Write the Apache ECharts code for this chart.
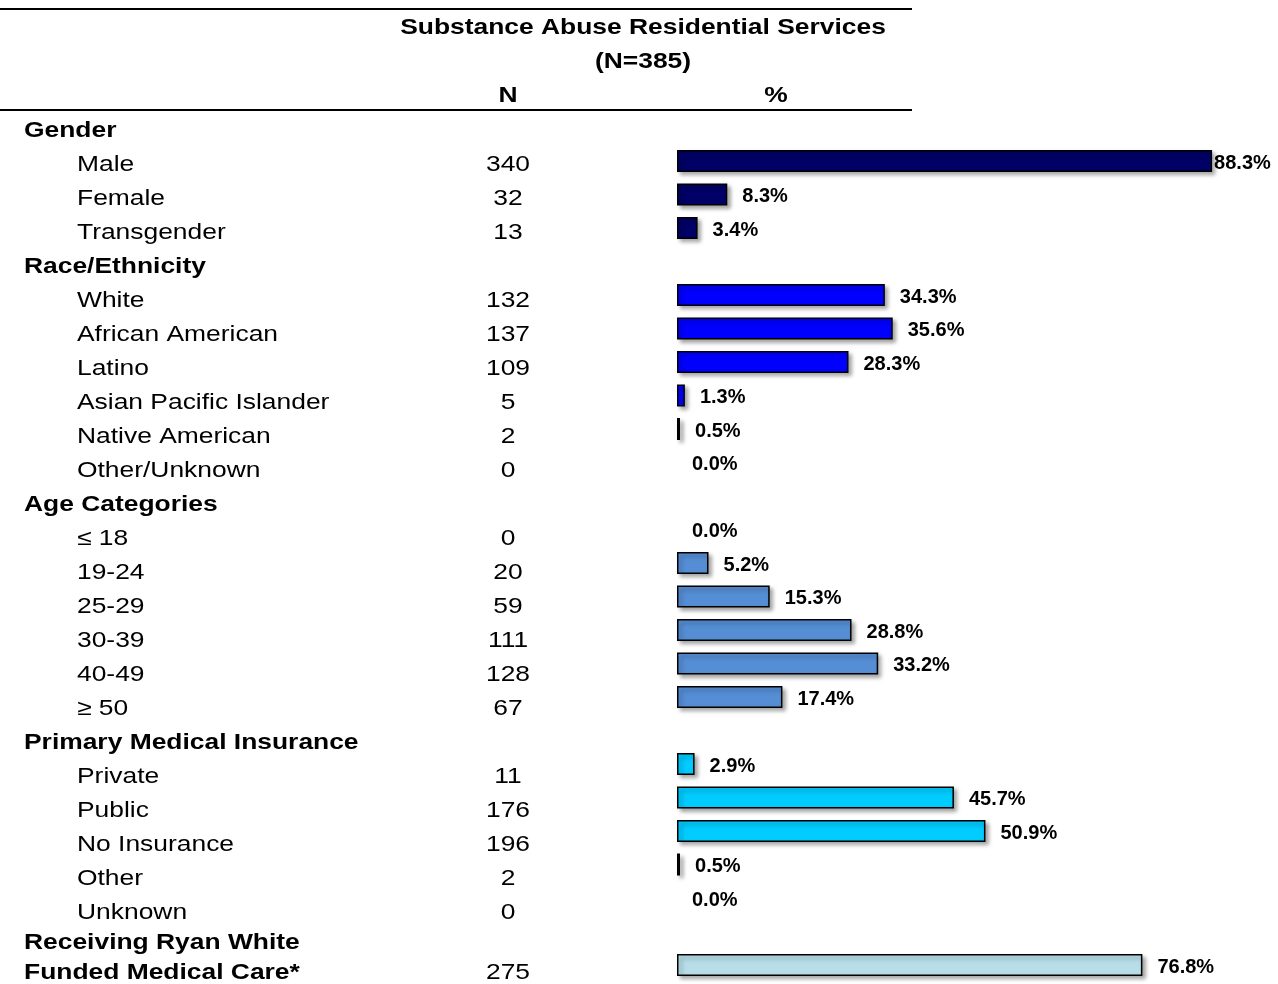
<!DOCTYPE html>
<html><head><meta charset="utf-8">
<script src="https://cdn.jsdelivr.net/npm/echarts@6/dist/echarts.min.js"></script>
<style>html,body{margin:0;padding:0;background:#fff}#c{width:1278px;height:984px}</style>
</head><body><div id="c"></div>
<script>
// ---- data ----
const rowLabels = ['Gender','Male','Female','Transgender','Race/Ethnicity','White','African American','Latino','Asian Pacific Islander','Native American','Other/Unknown','Age Categories','≤ 18','19-24','25-29','30-39','40-49','≥ 50','Primary Medical Insurance','Private','Public','No Insurance','Other','Unknown','Receiving Ryan White','Funded Medical Care*'];
const isHeader = [1,0,0,0,1,0,0,0,0,0,0,1,0,0,0,0,0,0,1,0,0,0,0,0,1,1];
const nValues = [null,340,32,13,null,132,137,109,5,2,0,null,0,20,59,111,128,67,null,11,176,196,2,0,null,275];
const pctValues = [null,88.3,8.3,3.4,null,34.3,35.6,28.3,1.3,0.5,0.0,null,0.0,5.2,15.3,28.8,33.2,17.4,null,2.9,45.7,50.9,0.5,0.0,null,76.8];
const groupOf = [0,0,0,0,1,1,1,1,1,1,1,2,2,2,2,2,2,2,3,3,3,3,3,3,4,4];
const groupColors = ['#000066','#0000FF','#558ED5','#00CCFF','#B7DEE8'];
const titleLines = ['Substance Abuse Residential Services','(N=385)'];
const colHeaders = ['N','%'];

const FONT = '"Liberation Sans", Arial, sans-serif';
const chart = echarts.init(document.getElementById('c'), null, {renderer:'canvas'});

const barData = pctValues.map((v,i)=>{
  if (v === null) return {value:null};
  return {
    value: v,
    itemStyle: {
      color: groupColors[groupOf[i]],
      borderColor: v === 0 ? 'transparent' : '#000',
      borderWidth: v === 0 ? 0 : 1.5,
      shadowColor: v === 0 ? 'transparent' : 'rgba(0,0,0,0.35)',
      shadowBlur: 4, shadowOffsetX: 3, shadowOffsetY: 3
    },
    label: {distance: v > 85 ? 2 : 15}
  };
});

const graphics = [];
function txt(s, x, y, bold, align, size){
  graphics.push({type:'text', x:x, y:y, scaleX:1.2, scaleY:1, silent:true,
    style:{text:s, font:(bold?'bold ':'')+(size||22)+'px '+FONT, fill:'#000', textAlign:align||'left', textVerticalAlign:'middle'}});
}
rowLabels.forEach((s,i)=>{
  let y = i < 24 ? 131 + 34*i : (i === 24 ? 943 : 973);
  txt(s, isHeader[i] ? 24 : 77, y, !!isHeader[i], 'left');
  if (nValues[i] !== null) txt(String(nValues[i]), 508, y, false, 'center');
});
txt(titleLines[0], 643, 28, true, 'center');
txt(titleLines[1], 643, 62, true, 'center');
txt(colHeaders[0], 508, 96, true, 'center');
txt(colHeaders[1], 776, 96, true, 'center');
graphics.push({type:'line', silent:true, shape:{x1:0,y1:9,x2:912,y2:9}, style:{stroke:'#000', lineWidth:2}});
graphics.push({type:'line', silent:true, shape:{x1:0,y1:110,x2:912,y2:110}, style:{stroke:'#000', lineWidth:2}});

chart.setOption({
  animation:false,
  grid:{left:677, right:55.6, top:110.75, bottom:2.25, containLabel:false},
  xAxis:{type:'value', min:0, max:90, show:false},
  yAxis:{type:'category', inverse:true, data:rowLabels, show:false},
  series:[{
    type:'bar', data:barData, barWidth:22, barGap:'0%',
    label:{show:true, position:'right', formatter:p=>p.value.toFixed(1)+'%',
      fontSize:20, fontWeight:'bold', fontFamily:FONT, color:'#000', offset:[0,2]}
  }],
  graphic:graphics
});
</script></body></html>
